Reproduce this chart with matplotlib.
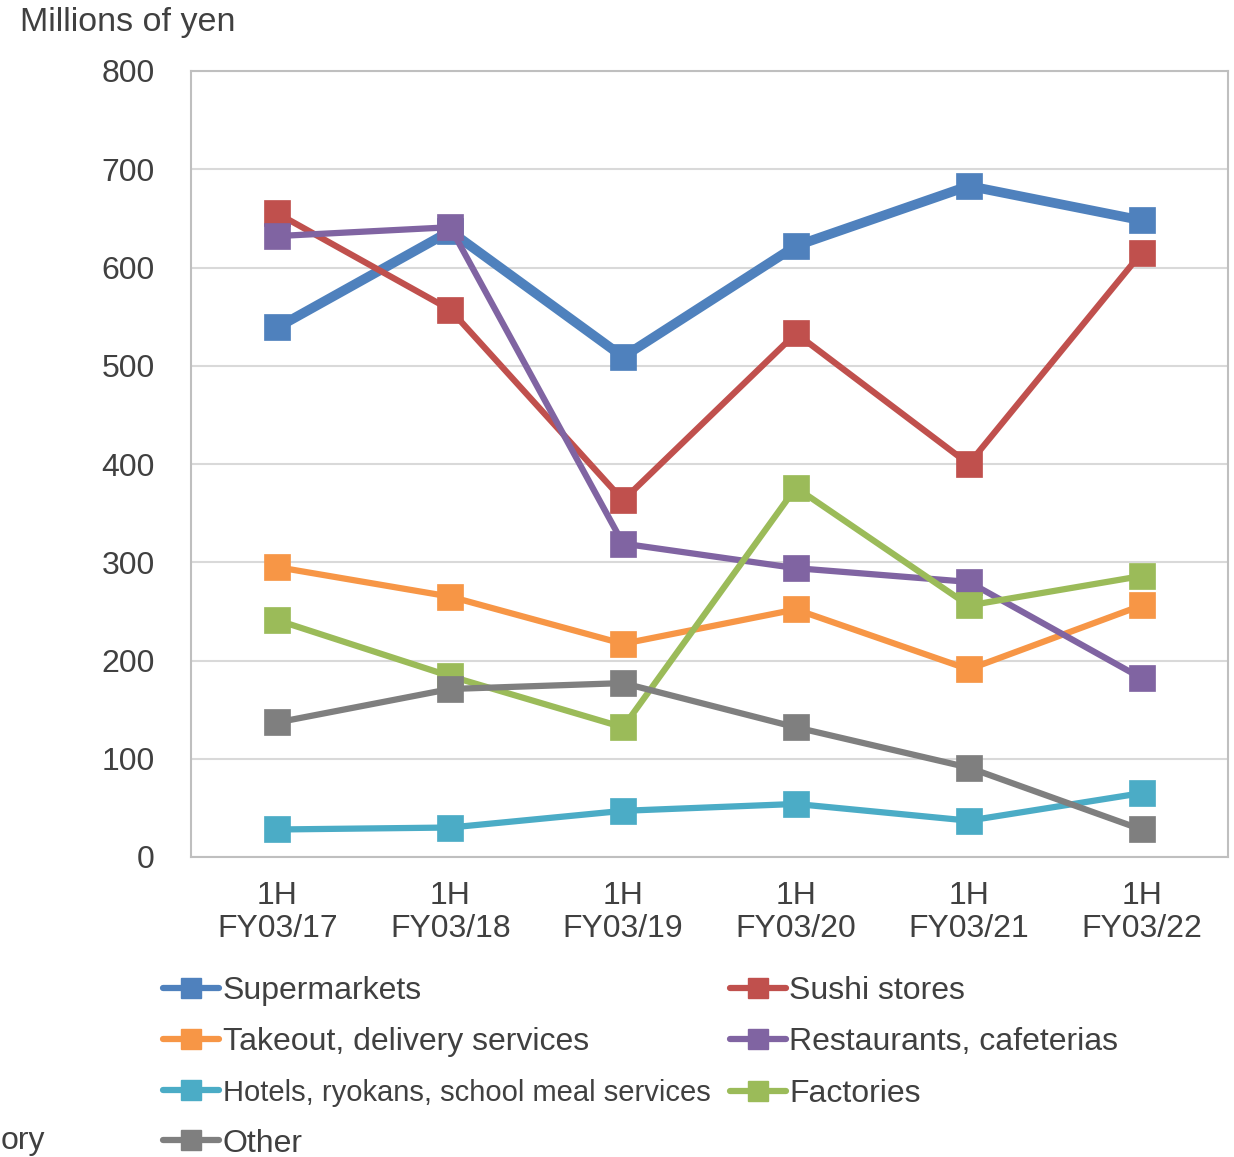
import matplotlib
matplotlib.use("Agg")
import matplotlib.pyplot as plt
from matplotlib.lines import Line2D

plt.rcParams['font.family'] = ['Liberation Sans', 'DejaVu Sans']

categories = ["1H\nFY03/17", "1H\nFY03/18", "1H\nFY03/19", "1H\nFY03/20", "1H\nFY03/21", "1H\nFY03/22"]

supermarkets = [539, 637, 509, 622, 683, 648]
sushi_stores = [655, 557, 363, 533, 400, 615]
takeout = [295, 265, 217, 252, 191, 256]
restaurants = [632, 641, 319, 294, 280, 182]
hotels = [28, 30, 47, 54, 37, 65]
factories = [241, 184, 132, 376, 256, 286]
other = [137, 171, 177, 132, 91, 28]

series = [
    ("Supermarkets", supermarkets, "#4F81BD", 7.0),
    ("Sushi stores", sushi_stores, "#C0504D", 4.5),
    ("Takeout, delivery services", takeout, "#F79646", 4.5),
    ("Restaurants, cafeterias", restaurants, "#8064A2", 4.5),
    ("Hotels, ryokans, school meal services", hotels, "#4BACC6", 4.5),
    ("Factories", factories, "#9BBB59", 4.5),
    ("Other", other, "#7F7F7F", 4.5),
]

W, H = 1234, 1157
fig = plt.figure(figsize=(W / 100, H / 100), dpi=100)
ax = fig.add_axes([191 / W, 1 - 857 / H, (1228 - 191) / W, (857 - 71) / H])

text_color = "#404040"
xs = list(range(len(categories)))
handles = {}
for name, vals, color, lw in series:
    ln, = ax.plot(xs, vals, color=color, lw=lw, marker="s", markersize=18.5,
                  markerfacecolor=color, markeredgecolor=color, markeredgewidth=0.5,
                  solid_joinstyle="round", solid_capstyle="round", label=name, clip_on=False)
    handles[name] = ln

ax.set_xlim(-0.5, len(categories) - 0.5)
ax.set_ylim(0, 800)
ax.set_yticks(range(0, 801, 100))
ax.set_xticks(xs)
ax.set_xticklabels(categories, linespacing=1.15)
ax.grid(axis="y", color="#d9d9d9", lw=1.5)
ax.set_axisbelow(True)
for sp in ax.spines.values():
    sp.set_color("#bfbfbf")
    sp.set_linewidth(1.5)
ax.tick_params(axis="both", length=0, labelsize=23, colors=text_color)
ax.tick_params(axis="y", pad=26)
ax.tick_params(axis="x", pad=17)

fig.text(20 / W, 1 - 23 / H, "Millions of yen", fontsize=24.5, color=text_color, va="center", ha="left")

order = ["Supermarkets", "Takeout, delivery services", "Hotels, ryokans, school meal services", "Other",
         "Sushi stores", "Restaurants, cafeterias", "Factories"]
leg_handles = []
for n in order:
    h = handles[n]
    leg_handles.append(Line2D([0], [0], color=h.get_color(), lw=4.5, marker="s", markersize=15,
                              markerfacecolor=h.get_color(), markeredgecolor=h.get_color(),
                              solid_capstyle="round"))
leg = fig.legend(leg_handles, order, loc="upper left", bbox_to_anchor=(163 / W, 1 - 976 / H),
                 ncol=2, frameon=False, fontsize=23, handlelength=1.75, handletextpad=0.12,
                 columnspacing=0.6, labelspacing=0.67, borderaxespad=0, borderpad=0)
for t in leg.get_texts():
    t.set_color(text_color)
    if t.get_text().startswith("Hotels"):
        t.set_fontsize(21)

fig.text(45 / W, 1 - 1141 / H, "ory", fontsize=23, color=text_color, ha="right", va="center")

fig.savefig("out.png", dpi=100)
